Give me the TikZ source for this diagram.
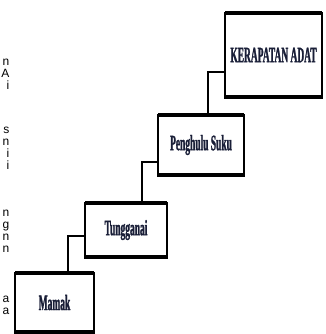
\documentclass[tikz,border=0pt]{standalone}
\usepackage{fontspec}
\usepackage{tikz}
\usetikzlibrary{positioning}
\newfontfamily\boxfont[FakeStretch=0.43,FakeBold=1.2]{Liberation Serif}
\newfontfamily\sidefont{Liberation Sans}
\definecolor{inkblue}{RGB}{25,30,55}

\begin{document}
\begin{tikzpicture}[x=1pt,y=-1pt,
    rank/.style={draw,line width=1.8pt,outer sep=0pt,inner sep=2pt,
      font=\boxfont\bfseries\fontsize{22}{22}\selectfont,text=inkblue},
    link/.style={line width=1.6pt},
    cutletter/.style={anchor=base east,inner sep=0pt,
      font=\sidefont\fontsize{12}{12}\selectfont}]
    \useasboundingbox (0,0) rectangle (325,334);
    % the four levels, bottom to top
    \node[rank,minimum width=79pt,minimum height=59pt] (mm) at (54.5,302.5) {Mamak};
    \node[rank,minimum width=82pt,minimum height=54pt] (tg) [above right=16pt and -9pt of mm] {Tungganai};
    \node[rank,minimum width=86pt,minimum height=60pt] (ps) [above right=28pt and -9pt of tg] {Penghulu Suku};
    \node[rank,minimum width=97pt,minimum height=84pt] (ka) [above right=18pt and -19pt of ps] {KERAPATAN ADAT};
    \foreach \n in {mm,tg,ps,ka}
      \draw[line width=4.5pt,shorten <=-0.9pt,shorten >=-0.9pt]
        (\n.north west) -- (\n.north east) (\n.south west) -- (\n.south east);
    \draw[link] ([yshift=-17pt]ka.west) -| ([xshift=7pt]ps.north);
    \draw[link] ([yshift=-17pt]ps.west) -| ([xshift=16pt]tg.north);
    \draw[link] ([yshift=-6pt]tg.west) -| ([xshift=13.5pt]mm.north);
    % ends of the cut text lines on the left
    \foreach \ch/\y [count=\i] in {n/66,A/78,i/90,s/133,n/145,i/157,i/169,
        n/216,g/228,n/240,n/252,a/302,a/314}
      \node[cutletter] (side\i) at (9.5,\y) {\ch};
\end{tikzpicture}
\end{document}
